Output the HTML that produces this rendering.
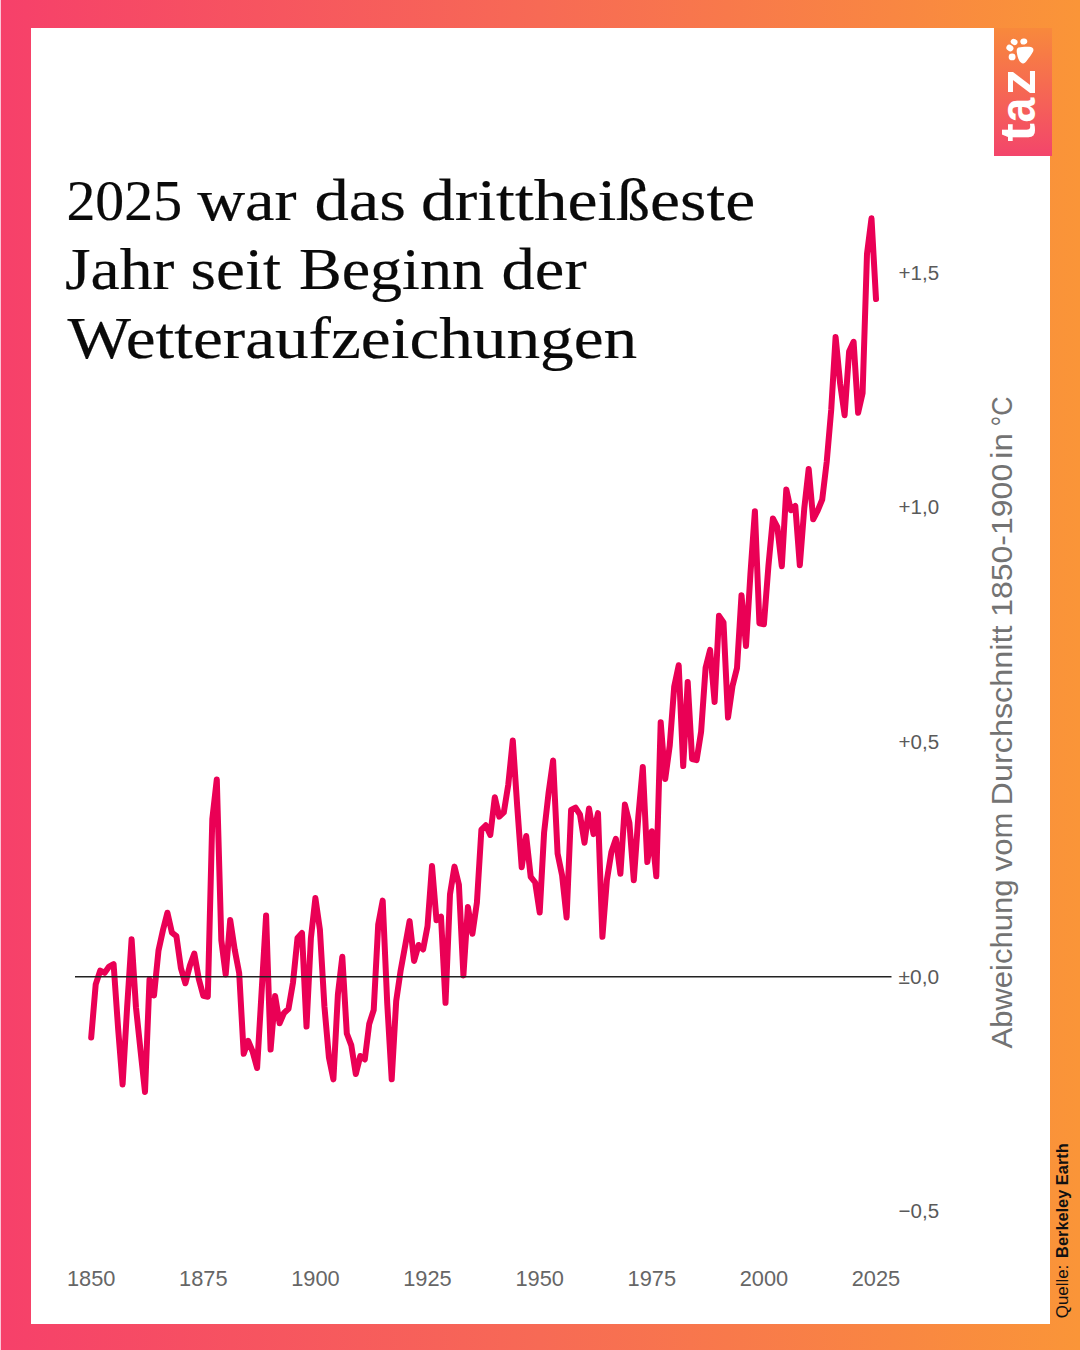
<!DOCTYPE html>
<html><head><meta charset="utf-8">
<style>
html,body{margin:0;padding:0;}
body{width:1080px;height:1350px;position:relative;overflow:hidden;background:linear-gradient(to right,#F6406A 0%,#F76A55 50%,#FA9538 100%);}
svg{position:absolute;left:0;top:0;}
body{font-family:"Liberation Sans",sans-serif;}
</style></head><body>
<svg width="1080" height="1350" viewBox="0 0 1080 1350">
<defs>
<linearGradient id="lg" x1="0" y1="0" x2="0" y2="1">
<stop offset="0" stop-color="#F8893C"/><stop offset="1" stop-color="#F3456B"/>
</linearGradient>
</defs>
<rect x="0" y="0" width="1" height="1350" fill="#FCC4D6"/>
<rect x="31" y="28" width="1019" height="1296" fill="#fff"/>
<rect x="994" y="28" width="58" height="128" fill="url(#lg)"/>
<g font-family="'Liberation Sans', sans-serif" font-weight="bold" font-size="50" fill="#fff">
<text transform="translate(1035,141.8) rotate(-90)" textLength="18.6" lengthAdjust="spacingAndGlyphs">t</text>
<text transform="translate(1035,122.6) rotate(-90)" textLength="24.7" lengthAdjust="spacingAndGlyphs">a</text>
<text transform="translate(1035,94.9) rotate(-90)" textLength="26" lengthAdjust="spacingAndGlyphs">z</text>
</g>
<g fill="#fff">
<ellipse cx="1014.1" cy="41.9" rx="3.5" ry="3.0" transform="rotate(25 1014.1 41.9)"/>
<ellipse cx="1023.8" cy="41.5" rx="3.5" ry="3.0" transform="rotate(-15 1023.8 41.5)"/>
<ellipse cx="1009.9" cy="48" rx="3.7" ry="3.1" transform="rotate(35 1009.9 48)"/>
<ellipse cx="1012.1" cy="56.9" rx="3.45" ry="3.35"/>
<path d="M1018.4,47.4 C1022,46.6 1028,46.4 1031,46.9 C1033.4,47.5 1034,49.6 1033.1,51.6 C1031.6,54.6 1029,58 1026.6,61 C1025.4,62.6 1024.2,63.6 1023,63.5 C1021.6,63.4 1020.2,62.4 1019.2,60.6 C1018,58.4 1017.2,55.4 1016.8,52.6 C1016.5,50.4 1016.8,48 1018.4,47.4 Z"/>
</g>
<g font-family="'Liberation Serif', serif" font-size="60" fill="#0a0a0a" stroke="#0a0a0a" stroke-width="0.2">
<text x="66.4" y="220" font-size="57" textLength="115.7" lengthAdjust="spacingAndGlyphs">2025</text>
<text x="197.2" y="220" textLength="99.4" lengthAdjust="spacingAndGlyphs">war</text>
<text x="314.4" y="220" textLength="91.5" lengthAdjust="spacingAndGlyphs">das</text>
<text x="421.0" y="220" textLength="334.2" lengthAdjust="spacingAndGlyphs">drittheißeste</text>
<text x="65.0" y="289.2" textLength="109.4" lengthAdjust="spacingAndGlyphs">Jahr</text>
<text x="190.6" y="289.2" textLength="90.5" lengthAdjust="spacingAndGlyphs">seit</text>
<text x="298.9" y="289.2" textLength="185.1" lengthAdjust="spacingAndGlyphs">Beginn</text>
<text x="501.6" y="289.2" textLength="85.0" lengthAdjust="spacingAndGlyphs">der</text>
<text x="67.6" y="357.6" textLength="569.6" lengthAdjust="spacingAndGlyphs">Wetteraufzeichungen</text>
</g>
<polyline points="91.2,1037.6 95.7,984.4 100.2,970.7 104.7,972.8 109.1,966.6 113.6,964.1 118.1,1028.3 122.6,1084.4 127.1,1007.7 131.6,939.2 136.0,1007.7 140.5,1050.2 145.0,1092.0 149.5,979.6 154.0,995.4 158.5,950.5 163.0,930.0 167.4,912.7 171.9,932.7 176.4,936.2 180.9,968.2 185.4,983.3 189.9,965.6 194.3,953.6 198.8,978.9 203.3,995.8 207.8,996.7 212.3,819.0 216.8,779.4 221.3,940.0 225.7,974.5 230.2,920.0 234.7,949.6 239.2,973.3 243.7,1053.8 248.2,1040.8 252.6,1051.5 257.1,1068.0 261.6,992.0 266.1,915.5 270.6,1049.6 275.1,996.0 279.6,1023.2 284.0,1013.0 288.5,1008.8 293.0,982.4 297.5,938.1 302.0,933.0 306.5,1026.6 310.9,938.0 315.4,898.1 319.9,929.6 324.4,1006.2 328.9,1057.3 333.4,1079.4 337.9,994.3 342.3,956.8 346.8,1033.5 351.3,1045.4 355.8,1074.0 360.3,1056.0 364.8,1059.5 369.2,1024.0 373.7,1010.0 378.2,924.6 382.7,900.6 387.2,1002.8 391.7,1079.3 396.2,1001.0 400.6,970.8 405.1,946.0 409.6,921.1 414.1,961.0 418.6,945.0 423.1,949.5 427.5,926.4 432.0,866.0 436.5,920.2 441.0,916.6 445.5,1002.8 450.0,894.2 454.5,866.6 458.9,884.6 463.4,975.4 467.9,906.9 472.4,933.7 476.9,902.6 481.4,829.6 485.8,825.3 490.3,835.0 494.8,797.3 499.3,816.7 503.8,812.4 508.3,784.4 512.8,740.4 517.2,806.0 521.7,867.2 526.2,836.0 530.7,876.8 535.2,882.5 539.7,912.5 544.1,832.5 548.6,792.7 553.1,760.5 557.6,853.6 562.1,875.4 566.6,917.4 571.1,810.0 575.5,807.7 580.0,814.7 584.5,842.7 589.0,808.5 593.5,834.1 598.0,813.1 602.4,936.8 606.9,880.0 611.4,852.0 615.9,838.8 620.4,873.8 624.9,804.6 629.4,823.0 633.8,880.3 638.3,817.0 642.8,766.9 647.3,862.0 651.8,831.2 656.3,876.3 660.7,722.2 665.2,779.1 669.7,745.9 674.2,686.7 678.7,665.3 683.2,766.1 687.7,681.9 692.1,759.0 696.6,760.1 701.1,731.7 705.6,667.7 710.1,649.9 714.6,702.1 719.0,615.8 723.5,622.5 728.0,717.6 732.5,686.0 737.0,668.0 741.5,595.3 746.0,646.1 750.4,574.5 754.9,511.2 759.4,623.3 763.9,624.3 768.4,566.2 772.9,518.5 777.3,526.8 781.8,566.2 786.3,489.4 790.8,510.2 795.3,506.0 799.8,565.2 804.3,508.1 808.7,468.9 813.2,519.3 817.7,510.6 822.2,499.6 826.7,462.0 831.2,410.0 835.6,337.0 840.1,383.4 844.6,415.2 849.1,351.6 853.6,341.8 858.1,412.8 862.6,393.2 867.0,253.8 871.5,218.3 876.0,299.0" fill="none" stroke="#EA0055" stroke-width="6" stroke-linejoin="round" stroke-linecap="round"/>
<line x1="75" y1="976.8" x2="891.5" y2="976.8" stroke="#222" stroke-width="1.5"/>
<g font-family="'Liberation Sans', sans-serif" font-size="20.3" fill="#5a5a5a">
<text x="898.6" y="279.6" textLength="40.5" lengthAdjust="spacingAndGlyphs">+1,5</text>
<text x="898.6" y="514" textLength="40.5" lengthAdjust="spacingAndGlyphs">+1,0</text>
<text x="898.6" y="748.8" textLength="40.5" lengthAdjust="spacingAndGlyphs">+0,5</text>
<text x="898.6" y="983.6" textLength="40.5" lengthAdjust="spacingAndGlyphs">±0,0</text>
<text x="898.6" y="1218.4" textLength="40.5" lengthAdjust="spacingAndGlyphs">−0,5</text>
</g>
<g font-family="'Liberation Sans', sans-serif" font-size="21.2" fill="#666" text-anchor="middle">
<text x="91.2" y="1286" textLength="48.5" lengthAdjust="spacingAndGlyphs">1850</text>
<text x="203.3" y="1286" textLength="48.5" lengthAdjust="spacingAndGlyphs">1875</text>
<text x="315.4" y="1286" textLength="48.5" lengthAdjust="spacingAndGlyphs">1900</text>
<text x="427.5" y="1286" textLength="48.5" lengthAdjust="spacingAndGlyphs">1925</text>
<text x="539.7" y="1286" textLength="48.5" lengthAdjust="spacingAndGlyphs">1950</text>
<text x="651.8" y="1286" textLength="48.5" lengthAdjust="spacingAndGlyphs">1975</text>
<text x="763.9" y="1286" textLength="48.5" lengthAdjust="spacingAndGlyphs">2000</text>
<text x="876.0" y="1286" textLength="48.5" lengthAdjust="spacingAndGlyphs">2025</text>
</g>
<text transform="translate(1012.2,1048.5) rotate(-90)" font-family="'Liberation Sans', sans-serif" font-weight="normal" font-size="30.2" fill="#737373" textLength="169.0" lengthAdjust="spacingAndGlyphs">Abweichung</text>
<text transform="translate(1012.2,871.3) rotate(-90)" font-family="'Liberation Sans', sans-serif" font-weight="normal" font-size="30.2" fill="#737373" textLength="58.7" lengthAdjust="spacingAndGlyphs">vom</text>
<text transform="translate(1012.2,805.4) rotate(-90)" font-family="'Liberation Sans', sans-serif" font-weight="normal" font-size="30.2" fill="#737373" textLength="179.9" lengthAdjust="spacingAndGlyphs">Durchschnitt</text>
<text transform="translate(1012.2,616.8) rotate(-90)" font-family="'Liberation Sans', sans-serif" font-weight="normal" font-size="30.2" fill="#737373" textLength="153.0" lengthAdjust="spacingAndGlyphs">1850-1900</text>
<text transform="translate(1012.2,458.9) rotate(-90)" font-family="'Liberation Sans', sans-serif" font-weight="normal" font-size="30.2" fill="#737373" textLength="25.9" lengthAdjust="spacingAndGlyphs">in</text>
<text transform="translate(1012.2,426.5) rotate(-90)" font-family="'Liberation Sans', sans-serif" font-weight="normal" font-size="30.2" fill="#737373" textLength="30.1" lengthAdjust="spacingAndGlyphs">°C</text>
<text transform="translate(1067.6,1318.2) rotate(-90)" font-family="'Liberation Sans', sans-serif" font-weight="normal" font-size="16.2" fill="#111" textLength="53.5" lengthAdjust="spacingAndGlyphs">Quelle:</text>
<text transform="translate(1067.6,1257.9) rotate(-90)" font-family="'Liberation Sans', sans-serif" font-weight="bold" font-size="16.2" fill="#111" textLength="114.6" lengthAdjust="spacingAndGlyphs">Berkeley Earth</text>
</svg>
</body></html>
